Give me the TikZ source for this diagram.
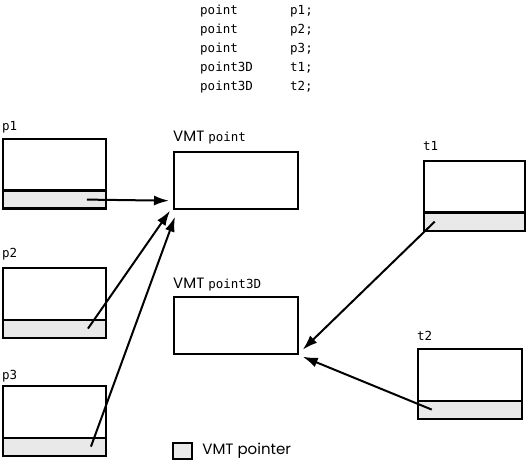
\documentclass[tikz,border=0pt]{standalone}
\usepackage{fontspec}
\setmonofont{DejaVu Sans Mono}
\newfontfamily\vmtfont{Poppins}
\usetikzlibrary{positioning}
\usetikzlibrary{arrows.meta}
\newcommand{\vmtcode}[1]{{\fontsize{12.5bp}{14bp}\selectfont\ttfamily #1}}

\begin{document}
\begin{tikzpicture}[x=1bp,y=-1bp,
        obj/.style={draw,line width=1.7bp,minimum width=103bp,minimum height=70bp,inner sep=0pt,anchor=north west},
        vptr/.style={draw,fill=gray!17,line width=2.2bp,minimum width=103bp,minimum height=18bp,inner sep=0pt,anchor=south},
        vmt/.style={draw,line width=1.7bp,minimum width=124bp,minimum height=57bp,inner sep=0pt,anchor=north west},
        code/.style={font=\fontsize{12.5bp}{19bp}\selectfont\ttfamily,inner sep=0pt},
        lab/.style={font=\fontsize{15bp}{18bp}\selectfont\vmtfont,inner sep=0pt},
        ptr/.style={line width=2bp,-{Latex[length=15bp,width=10bp]}}]
        \useasboundingbox (0,0) rectangle (528,461);

        \node[code,align=left,anchor=north west] (decl) at (200,5)
          {\makebox[90bp][l]{point}p1;\\
           \makebox[90bp][l]{point}p2;\\
           \makebox[90bp][l]{point}p3;\\
           \makebox[90bp][l]{point3D}t1;\\
           \makebox[90bp][l]{point3D}t2;};

        \node[obj] (p1) at (2,138) {};
        \node[vptr] (p1v) at (p1.south) {};
        \node[code,anchor=base west] (p1l) at ([yshift=7bp]p1.north west) {p1};
        \node[obj] (p2) at (2,267) {};
        \node[vptr] (p2v) at (p2.south) {};
        \node[code,anchor=base west] (p2l) at ([yshift=9bp]p2.north west) {p2};
        \node[obj] (p3) at (2,385) {};
        \node[vptr] (p3v) at (p3.south) {};
        \node[code,anchor=base west] (p3l) at ([yshift=6bp]p3.north west) {p3};

        \node[vmt] (vp) at (173,151) {};
        \node[lab,anchor=base west] (vpl) at ([yshift=9bp]vp.north west) {VMT \vmtcode{point}};
        \node[vmt] (vq) at (173,296) {};
        \node[lab,anchor=base west] (vql) at ([yshift=8bp]vq.north west) {VMT \vmtcode{point3D}};

        \node[obj,minimum width=101bp] (t1) at (423,160) {};
        \node[vptr,minimum width=101bp] (t1v) at (t1.south) {};
        \node[code,anchor=base west] (t1l) at ([yshift=9bp]t1.north west) {t1};
        \node[obj,minimum width=104bp] (t2) at (417,348) {};
        \node[vptr,minimum width=104bp] (t2v) at (t2.south) {};
        \node[code,anchor=base west] (t2l) at ([yshift=8bp]t2.north west) {t2};

        \node[vptr,anchor=north west,minimum width=19bp,minimum height=16bp] (key) at (172,442) {};
        \node[lab,right=9bp of key] (keyl) {VMT pointer};

        \coordinate (p1ptr) at ([xshift=-20bp]p1v.east);
        \coordinate (p2ptr) at ([xshift=-19bp]p2v.east);
        \coordinate (p3ptr) at ([xshift=-16bp]p3v.east);
        \coordinate (t1ptr) at ([xshift=12bp]t1v.west);
        \coordinate (t2ptr) at ([xshift=15bp]t2v.west);

        \draw[ptr] (p1ptr) -- ([xshift=-4bp,yshift=9bp]vp.south west);
        \draw[ptr] (p2ptr) -- ([xshift=-3bp,yshift=-1bp]vp.south west);
        \draw[ptr] (p3ptr) -- ([xshift=2bp,yshift=-7bp]vp.south west);
        \draw[ptr] (t1ptr) -- ([xshift=4bp,yshift=5bp]vq.south east);
        \draw[ptr] (t2ptr) -- ([xshift=4bp,yshift=-2bp]vq.south east);
      \end{tikzpicture}
\end{document}
